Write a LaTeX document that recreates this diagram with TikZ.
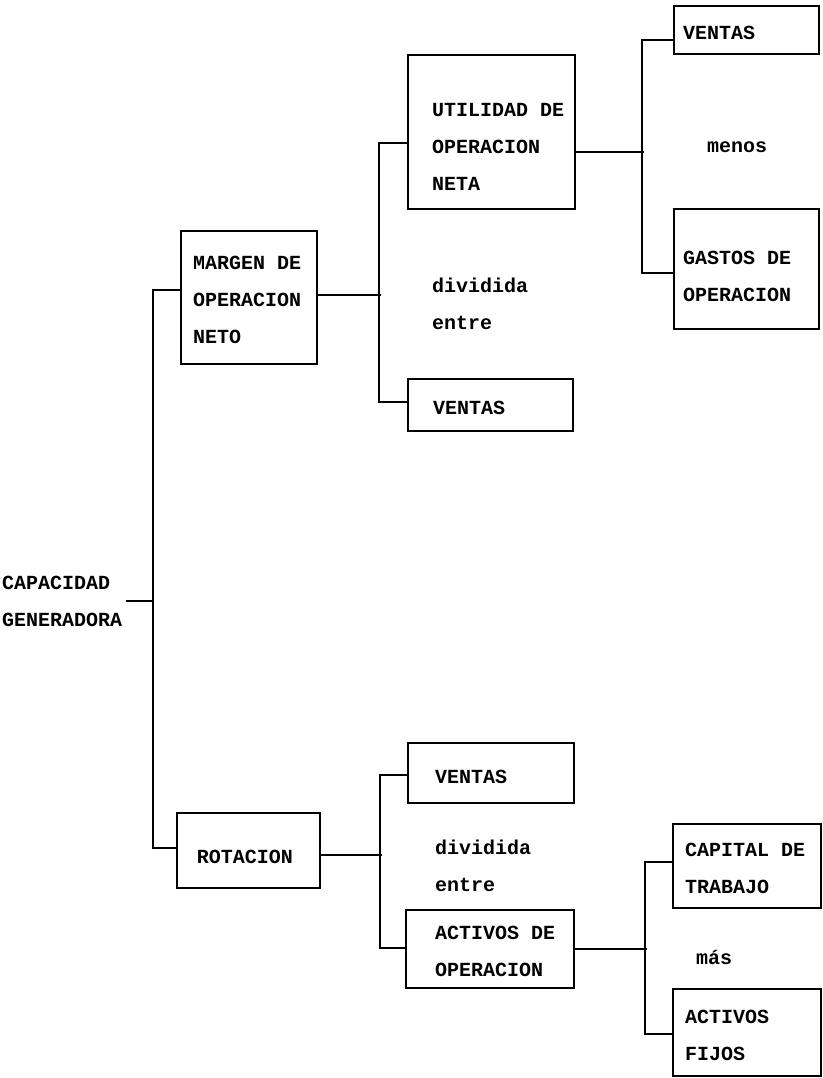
\documentclass[tikz,border=0pt]{standalone}
\usepackage{fontspec}
\setmainfont{Liberation Mono}
\begin{document}
\begin{tikzpicture}[x=1pt,y=-1pt,
  box/.style={draw, line width=2.2pt, anchor=north west, inner sep=0pt},
  txt/.style={anchor=west, inner sep=0pt, align=left, font=\fontsize{20}{37}\selectfont\bfseries},
  ctxt/.style={anchor=center, inner sep=0pt, align=center, font=\fontsize{20}{37}\selectfont\bfseries},
  link/.style={line width=2.2pt}]
\useasboundingbox (0,0) rectangle (822,1078);
% boxes
\node[box, minimum width=136pt, minimum height=133pt] (margen)   at (180,230) {};
\node[box, minimum width=167pt, minimum height=154pt] (utilidad) at (407,54)  {};
\node[box, minimum width=165pt, minimum height=52pt]  (ventasB)  at (407,378) {};
\node[box, minimum width=145pt, minimum height=48pt]  (ventasA)  at (673,5)   {};
\node[box, minimum width=145pt, minimum height=120pt] (gastos)   at (673,208) {};
\node[box, minimum width=143pt, minimum height=75pt]  (rotacion) at (176,812) {};
\node[box, minimum width=166pt, minimum height=60pt]  (ventasC)  at (407,742) {};
\node[box, minimum width=168pt, minimum height=78pt]  (activos)  at (405,909) {};
\node[box, minimum width=148pt, minimum height=84pt]  (capital)  at (672,823) {};
\node[box, minimum width=148pt, minimum height=87pt]  (fijos)    at (672,988) {};
% texts
\node[txt] (cap)   at (2,601)     {CAPACIDAD\\GENERADORA};
\node[txt] (tmarg) at (193,300)   {MARGEN DE\\OPERACION\\NETO};
\node[txt] (tutil) at (432,147)   {UTILIDAD DE\\OPERACION\\NETA};
\node[txt] (tvenA) at (683,33)    {VENTAS};
\node[ctxt] (menos) at (737,147)  {menos};
\node[txt] (tgast) at (683,276.5) {GASTOS DE\\OPERACION};
\node[txt] (div1)  at (432,304)   {dividida\\entre};
\node[txt] (tvenB) at (433,408)   {VENTAS};
\node[ctxt] (trot) at (245,857)   {ROTACION};
\node[txt] (tvenC) at (435,777)   {VENTAS};
\node[txt] (div2)  at (435,865.5) {dividida\\entre};
\node[txt] (tact)  at (435,951)   {ACTIVOS DE\\OPERACION};
\node[txt] (tcap)  at (685,868.5) {CAPITAL DE\\TRABAJO};
\node[ctxt] (mas)  at (714,957)   {más};
\node[txt] (tfij)  at (685,1035)  {ACTIVOS\\FIJOS};
% connectors
\draw[link] ([yshift=-60pt]margen.north west) -- ++(-27,0) coordinate (t0) |- ([yshift=-36pt]rotacion.north west);
\draw[link] ([xshift=4pt]cap.east) -- (t0 |- cap.east);
\draw[link] ([yshift=-65pt]margen.north east) -- ++(63,0);
\draw[link] ([yshift=-89pt]utilidad.north west) -- ++(-28,0) |- ([yshift=-24pt]ventasB.north west);
\draw[link] ([yshift=-98pt]utilidad.north east) -- ++(68,0);
\draw[link] ([yshift=-35pt]ventasA.north west) -- ++(-31,0) |- ([yshift=-65pt]gastos.north west);
\draw[link] ([yshift=-43pt]rotacion.north east) -- ++(61,0);
\draw[link] ([yshift=-33pt]ventasC.north west) -- ++(-27,0) |- ([yshift=-39pt]activos.north west);
\draw[link] ([yshift=-40pt]activos.north east) -- ++(72,0);
\draw[link] ([yshift=-39pt]capital.north west) -- ++(-27,0) |- ([yshift=-46pt]fijos.north west);
\end{tikzpicture}
\end{document}
